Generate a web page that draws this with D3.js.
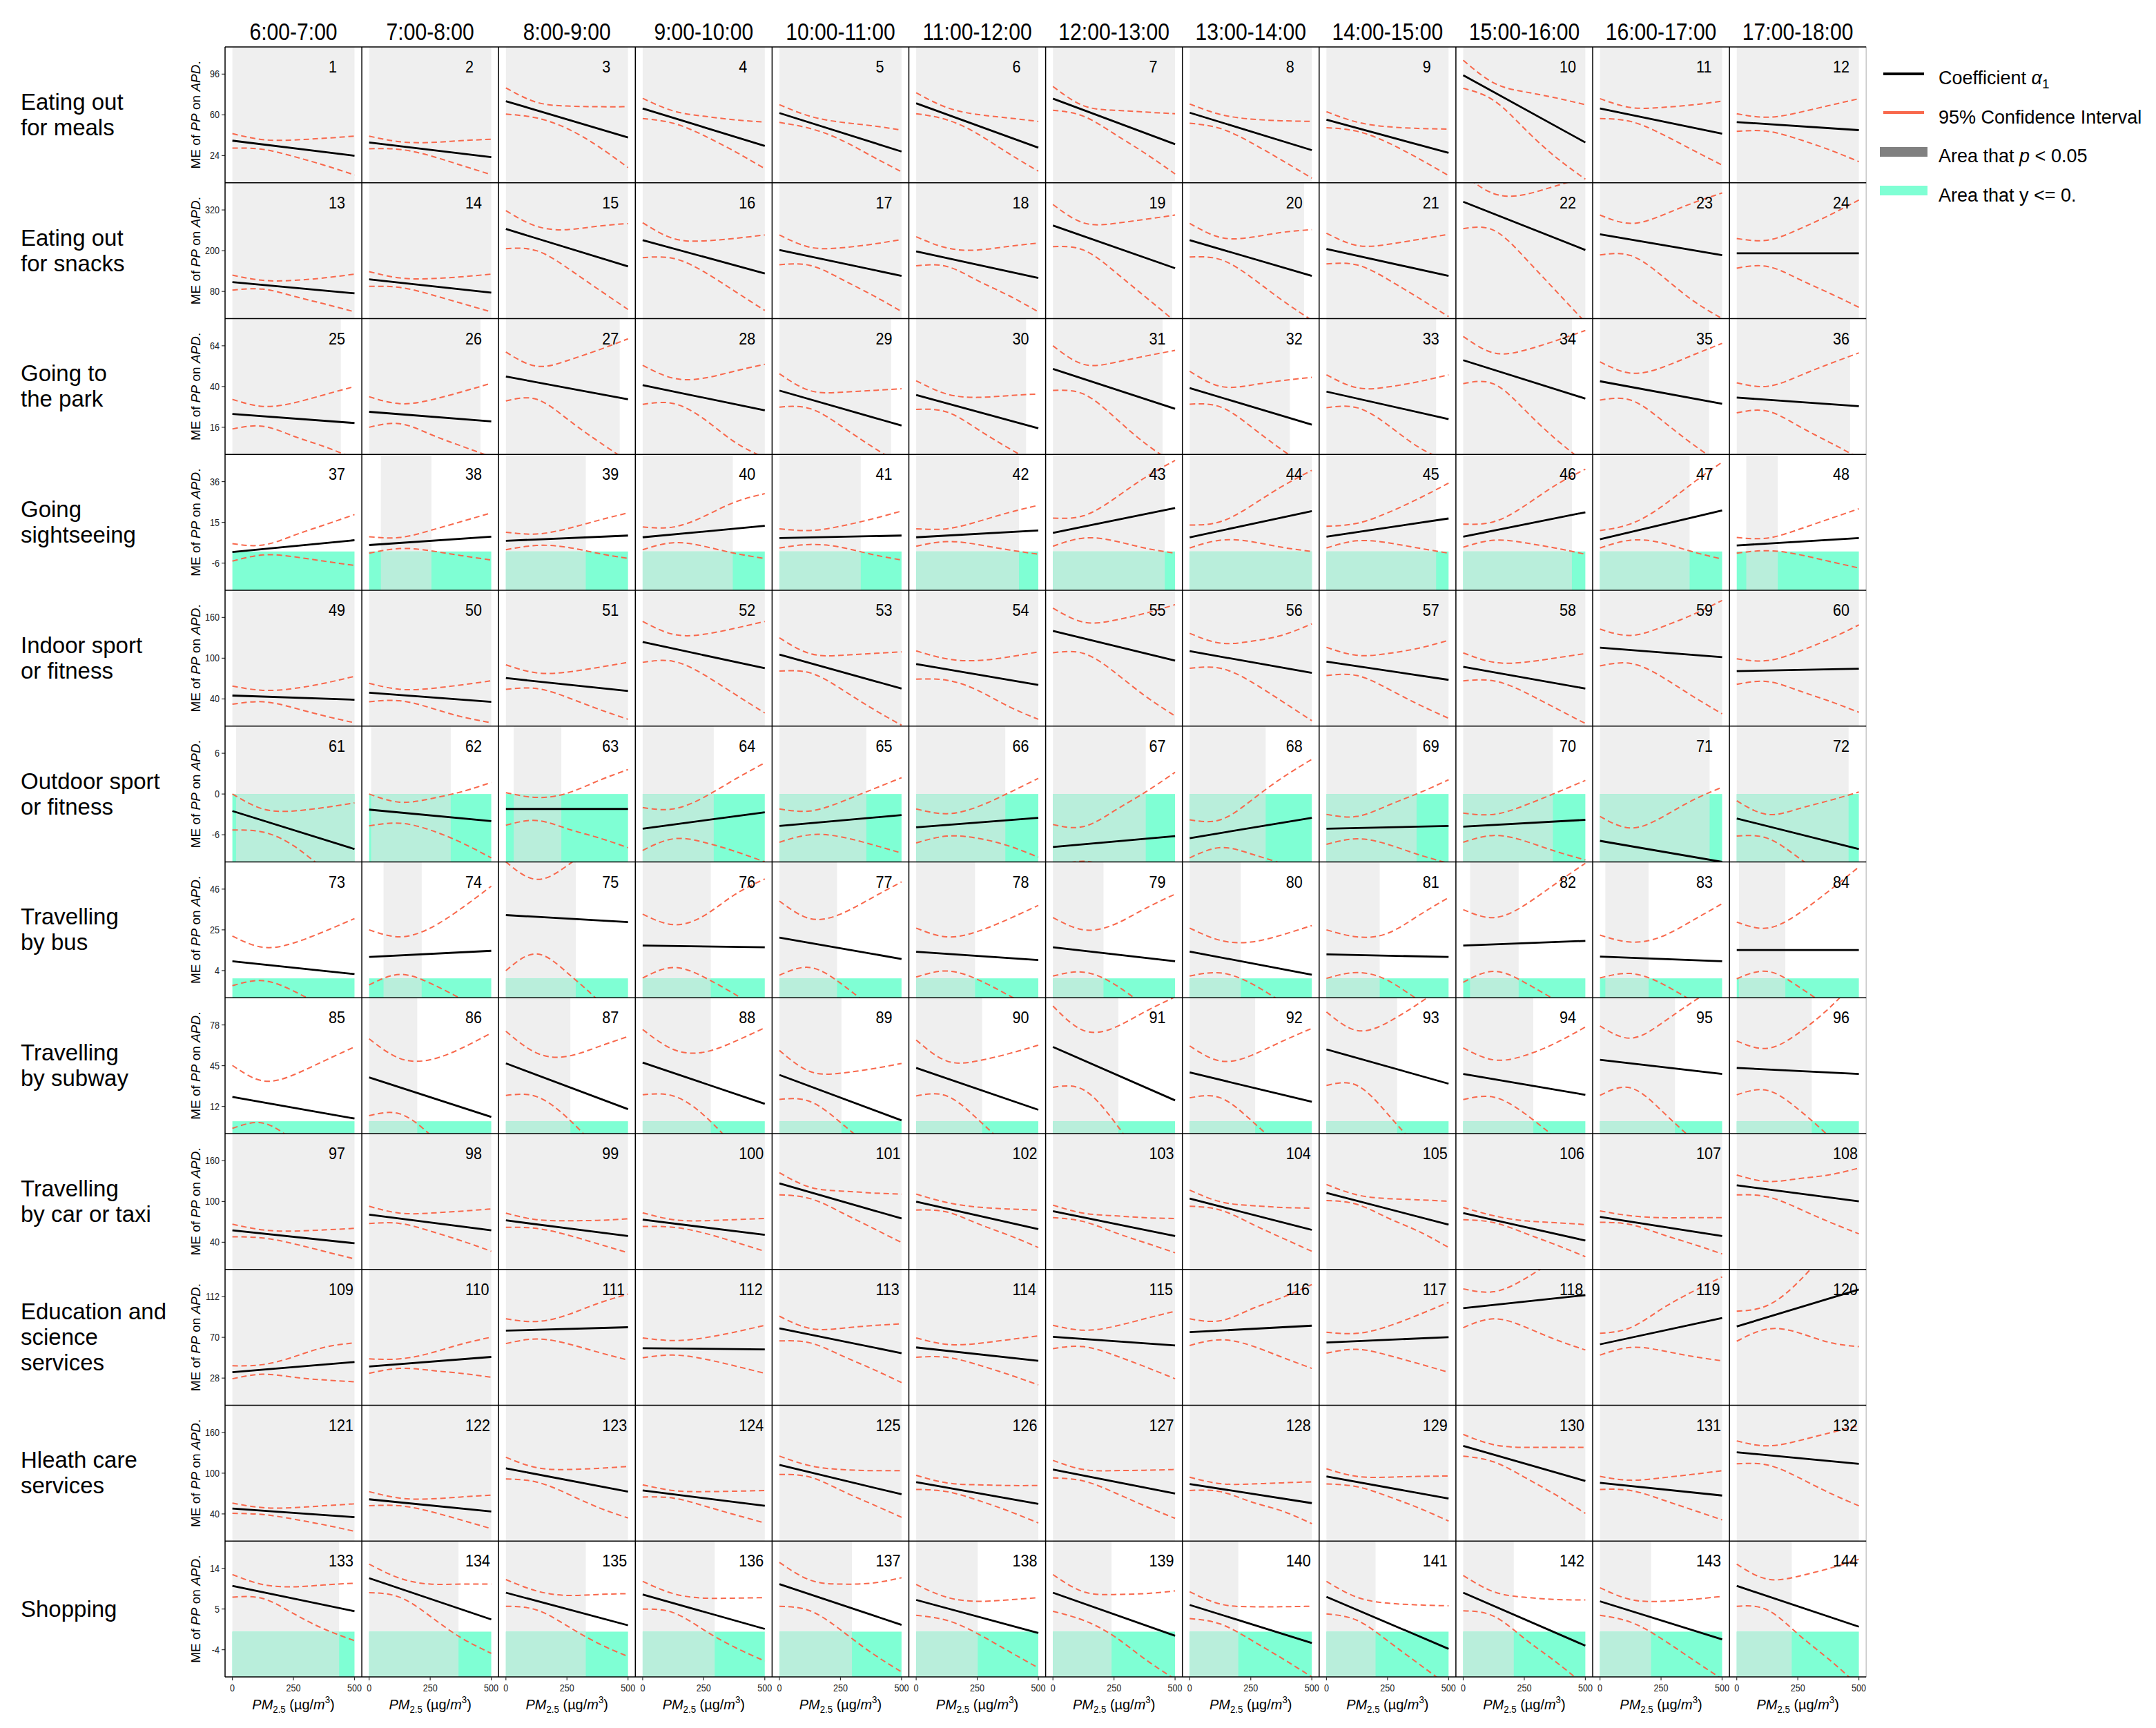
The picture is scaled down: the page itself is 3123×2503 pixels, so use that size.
<!DOCTYPE html>
<html>
<head>
<meta charset="utf-8">
<script src="https://cdn.jsdelivr.net/npm/d3@7"></script>
<style>
body { margin: 0; background: #fff; }
text { font-family: "Liberation Sans", Arial, sans-serif; }
</style>
</head>
<body>
<script>
// hour slots (columns) and activities (rows)
var hours = ["6:00-7:00", "7:00-8:00", "8:00-9:00", "9:00-10:00", "10:00-11:00", "11:00-12:00",
    "12:00-13:00", "13:00-14:00", "14:00-15:00", "15:00-16:00", "16:00-17:00", "17:00-18:00"];

var activities = [["Eating out", "for meals"], ["Eating out", "for snacks"], ["Going to", "the park"],
    ["Going", "sightseeing"], ["Indoor sport", "or fitness"], ["Outdoor sport", "or fitness"],
    ["Travelling", "by bus"], ["Travelling", "by subway"], ["Travelling", "by car or taxi"],
    ["Education and", "science", "services"], ["Hleath care", "services"], ["Shopping"]];

// y limits and ticks of every row
var yDomains = [[0, 120], [0, 400], [0, 80], [-20, 50], [0, 200], [-10, 10], [-10, 60], [-10, 100],
    [0, 200], [0, 140], [0, 200], [-10, 20]];
var yTicks = [[24, 60, 96], [80, 200, 320], [16, 40, 64], [-6, 15, 36], [40, 100, 160], [-6, 0, 6],
    [4, 25, 46], [12, 45, 78], [40, 100, 160], [28, 70, 112], [40, 100, 160], [-4, 5, 14]];
var xTicks = [0, 250, 500];

// PM2.5 values where the confidence bounds were read
var ciX = [0, 125, 250, 375, 500];

// coefficient alpha1 at PM2.5 = 0 and PM2.5 = 500
var coef = [
    [[37.2, 23.9], [35.6, 22.7], [72.1, 40], [65.6, 32.6], [61.6, 27.6], [70.2, 31], [74.3, 34.1], [61.9, 28.8], [55.7, 26.4], [95, 35.6], [65.6, 43.4], [53.6, 46.5]],
    [[107.4, 74.5], [115.6, 76.5], [263.9, 153.8], [230.9, 133.1], [202, 125.8], [198, 119.8], [274.2, 148.5], [230.9, 125.8], [205, 125.8], [344.2, 202], [248.4, 186.7], [192.4, 192.4]],
    [[23.8, 18.5], [25.1, 19.5], [45.9, 32.5], [40.8, 26], [37.6, 17], [35, 15.4], [50.4, 26.9], [39.1, 17.5], [37, 20.8], [55.5, 32.9], [43.1, 29.8], [33.5, 28.4]],
    [[-0.3, 5.8], [3.3, 7.6], [5.5, 8.2], [7.3, 13.2], [6.9, 8.2], [7.3, 10.8], [9.6, 22.4], [7.3, 20.8], [7.6, 17], [7.6, 20.2], [6.3, 21.1], [3.1, 6.9]],
    [[45, 38.8], [49.1, 35.8], [70.7, 51.7], [123.8, 85.2], [105.3, 55.3], [91.3, 60.5], [140.2, 96.5], [110.3, 78.4], [94.9, 68.1], [87.2, 55.3], [115.4, 101.6], [81, 84.6]],
    [[-2.5, -8.1], [-2.3, -4], [-2.2, -2.2], [-5.1, -2.7], [-4.7, -3.1], [-4.9, -3.5], [-7.8, -6.2], [-6.5, -3.5], [-5.1, -4.7], [-4.8, -3.8], [-6.9, -10], [-3.6, -8.1]],
    [[8.8, 2.2], [11, 14.2], [32.6, 29], [16.9, 16], [21, 10], [13.7, 9.4], [16, 8.8], [13.8, 1.9], [12.4, 11], [16.9, 19.3], [11.2, 8.8], [14.6, 14.6]],
    [[19.7, 2.2], [35.5, 3.5], [46.9, 9.8], [47.5, 14.1], [37.5, 0.7], [43.2, 9.3], [60.2, 16.9], [39.5, 15.8], [58.2, 30.4], [38.3, 21.4], [49.7, 38.3], [43.2, 38.3]],
    [[57.6, 38.5], [80.6, 57.6], [72.2, 49.1], [73.3, 50.9], [126.7, 75], [99.7, 59.3], [85.7, 49.1], [104.3, 58.2], [112.7, 66], [82.9, 42.5], [77.3, 49.1], [123.9, 100.3]],
    [[34, 44.6], [40, 49.8], [76.9, 80.4], [58.8, 57.6], [79.2, 53.7], [59.6, 45.8], [70.6, 61.6], [75.3, 82], [64.7, 70.2], [100.1, 113.5], [62.8, 89.9], [81.2, 119.3]],
    [[48, 35.2], [61.5, 43.6], [107.1, 72.8], [74.5, 52], [112.1, 68.9], [86.7, 54.7], [105.4, 70], [84, 55.9], [95.2, 62.6], [140.2, 88.5], [85.7, 67.1], [130.7, 113.8]],
    [[10.1, 4.5], [11.8, 2.7], [8.6, 1.4], [8.2, 0.6], [10.5, 1.5], [7, -0.3], [8.6, -0.9], [5.9, -2.5], [7.7, -3.8], [8.6, -3.1], [6.7, -1.7], [10.1, 1.1]]
];

// upper 95% bound at ciX
var ciUpper = [
    [[43.4, 38.1, 37.8, 39.3, 41.2], [41.2, 36.3, 35.6, 37.2, 38.4], [83.8, 71.2, 67.8, 67.2, 67.2], [74.6, 63.5, 58.8, 55.7, 53.6], [69, 58.8, 53.6, 50.5, 46.5], [79.5, 66.5, 60.4, 57.3, 54.2],
     [85.1, 68.1, 64.1, 62.5, 61], [69.6, 60.4, 56.3, 54.8, 54.2], [62.8, 53.6, 49.6, 48, 47.4], [108.3, 88.2, 80.4, 75.2, 69], [74.3, 66.5, 66.5, 68.7, 72.1], [61, 57.9, 61.9, 68.1, 74.3]],
    [[128, 112.6, 112.6, 119.8, 131.1], [138.3, 119.8, 117.7, 122.9, 131.1], [318, 272, 262, 272, 280], [282.4, 236, 228.8, 236, 246.3], [246.3, 210.3, 208.2, 218.5, 232.9], [241.2, 208.2, 202, 212.3, 222.6],
     [336, 282, 280, 292, 305], [280.4, 239.2, 239.2, 253.6, 262], [251.5, 215.4, 218.5, 232.9, 248.4], [425, 368, 365, 390, 415], [305, 280.4, 303, 339, 369.9], [236, 230.9, 261.8, 303, 349.2]],
    [[32.4, 28.3, 30.3, 35.1, 40], [34, 29.9, 32, 36.7, 41.9], [60.3, 52, 55.2, 61.3, 68.1], [52.5, 44.9, 44.9, 49, 53.1], [47.5, 37.6, 36.6, 37.6, 38.7], [43.4, 35.6, 33.6, 34.6, 35.6],
     [64, 53.1, 54.1, 57.8, 61.3], [49, 40.1, 40.8, 43.4, 45.4], [46.9, 39.3, 39.7, 42.8, 46.9], [69.5, 59.8, 61.3, 66.8, 73], [54.5, 47.9, 51, 58.2, 65.4], [42.2, 40.1, 45.9, 53.1, 59.8]],
    [[4, 3.3, 8.2, 13.6, 19], [7.6, 7.2, 10.8, 15.3, 19.9], [9.9, 9, 11.7, 15.9, 19.9], [12.6, 12.6, 18, 25.3, 29.8], [11.7, 10.8, 13, 16.6, 20.8], [11.7, 11.7, 15.3, 19.9, 23.8],
     [17.2, 18.4, 27.1, 37.9, 46.9], [13.6, 15.3, 23.4, 33.3, 41.8], [13, 14.5, 19.9, 27.1, 35.2], [14.1, 15.3, 23.4, 33.9, 42.4], [10.8, 14.2, 22.9, 34.8, 46], [7.2, 6.9, 11.2, 16.6, 22]],
    [[58.9, 52.7, 55.3, 63, 73.3], [63, 54.2, 55.3, 60.5, 66.7], [90.2, 78.4, 79.5, 86.2, 93.9], [154.1, 135.1, 135.1, 143.8, 154.1], [130, 106.8, 104.2, 106.8, 109.3], [110.8, 99, 96.5, 101.6, 109.3],
     [173.7, 153.1, 155.7, 165.9, 178.8], [136.6, 122.2, 124.8, 133.5, 150.5], [116, 104.2, 106.8, 114.5, 126.3], [107.8, 94, 94, 100.1, 106.8], [142.8, 133.5, 145.4, 163.4, 185], [99, 96.5, 109.3, 127.4, 149]],
    [[0, -2.2, -2.5, -2, -1.3], [0, -1.2, -0.7, 0.3, 1.7], [0.2, -0.5, 0.1, 1.9, 3.6], [-2, -2.2, -0.5, 2.1, 4.6], [-2.2, -2.5, -1.2, 0.6, 2.4], [-2.2, -2.9, -1.9, 0.1, 2.3],
     [-4.5, -4.8, -2.5, 0.2, 3.2], [-3.8, -3.8, -1, 2.3, 5.1], [-3, -3.3, -1.7, 0.1, 2.1], [-2.8, -3, -1.7, 0.1, 2], [-3.3, -5, -3.5, -1, 1], [-1, -3, -2.2, -1, 0.3]],
    [[21.8, 16, 18.2, 24.1, 30.8], [25, 21.4, 25.9, 35.8, 47.5], [60, 51, 58, 70, 85], [33.1, 27.7, 32.2, 43, 51.2], [39.8, 30.8, 33.1, 41.2, 49.7], [25.9, 21.4, 24.1, 30.4, 37.6],
     [31.3, 25, 27.7, 35.8, 43.4], [25.9, 19.6, 18.7, 22.3, 27.2], [25, 21.4, 23.2, 32.2, 41.6], [35.4, 31.3, 37.6, 48.5, 59.3], [22.3, 18.7, 21.4, 29.5, 38.5], [29, 25.9, 33.1, 44.8, 57.4]],
    [[45.2, 32.7, 37.5, 48.8, 60.2], [66.7, 50.9, 49.8, 58.8, 71.5], [72.9, 55.3, 52.5, 60.1, 68.6], [74.3, 58.2, 55.9, 64.4, 75.7], [57.3, 40.3, 38.9, 42.3, 46.8], [65.8, 48.8, 48.8, 54.5, 61.6],
     [93.3, 73.5, 75.7, 88.5, 100.6], [61, 48.8, 53.1, 64.4, 75.2], [88.5, 73.5, 80, 95, 112], [59.4, 49.7, 53.1, 63, 76.3], [77.2, 67.3, 79, 96, 112], [65, 59, 71, 91, 116]],
    [[66.6, 58.2, 56.5, 58.2, 60.4], [93, 82.9, 82.9, 85.7, 89], [82.9, 73.3, 71.7, 72.2, 74.5], [83.4, 73.3, 71.7, 73.3, 75], [142.4, 121.1, 115.5, 112.7, 110.9], [110.9, 98.6, 91.9, 89, 87.4],
     [94.7, 82.9, 79, 76.2, 75], [116.7, 99.7, 94.1, 91.3, 90.2], [125, 109.8, 104.3, 102.5, 100.3], [91.3, 79, 71.7, 68.9, 66], [86.2, 79, 76.2, 76.2, 76.2], [139, 129.5, 133.5, 139, 149.2]],
    [[40.7, 41.9, 49.8, 59.6, 64.3], [47.8, 47.8, 53.7, 62.8, 70.2], [89.1, 86.3, 93, 104.8, 114.6], [69.4, 66.7, 69.4, 75.3, 82.4], [91.8, 79.2, 79.2, 82, 83.9], [69.4, 62.8, 63.6, 67.5, 71.4],
     [82.4, 77.3, 81.2, 89.1, 96.9], [89.1, 87.1, 98.9, 110.7, 124.4], [75.3, 74.1, 81.2, 93, 106], [120, 117, 130, 150, 170], [74.1, 80, 98.9, 116.6, 132.3], [96.9, 102.8, 126.5, 158, 178]],
    [[55.9, 49.2, 49.2, 52, 54.8], [72.8, 63.3, 62.1, 64.9, 67.7], [123.4, 108.2, 105.4, 107.1, 109.9], [82.9, 74.5, 72.8, 73.4, 74.5], [125.1, 111, 105.4, 103.7, 103.7], [96.9, 85.7, 82.9, 81.8, 81.8],
     [118.8, 105.4, 103.7, 104.3, 105.4], [94.1, 84.6, 84, 85.7, 87.3], [106.5, 95.2, 94.1, 95.2, 95.8], [157, 141.9, 138, 138, 138], [95.2, 89.6, 93, 98, 103.7], [147.5, 140.2, 147.5, 158.8, 170]],
    [[12.6, 10.4, 9.9, 10.3, 10.7], [14.9, 11.8, 10.5, 10.5, 10.5], [11.5, 9, 8, 8.2, 8.4], [11.1, 8.4, 7.4, 7.4, 7.5], [15.3, 11.4, 10.5, 10.7, 11.9], [10.4, 7.6, 6.7, 7, 7.5],
     [12.6, 8.8, 8.2, 8.4, 9], [8.8, 6.1, 5.5, 5.5, 5.6], [11.1, 7.6, 6.3, 5.9, 5.7], [12.4, 8.8, 7.6, 7.1, 7], [9.7, 7.1, 6.7, 7.1, 7.8], [14.9, 11.6, 12.2, 13.9, 16]]
];

// lower 95% bound at ciX
var ciLower = [
    [[30.7, 29.5, 23.3, 15.6, 6.9], [30.1, 29.5, 23.9, 15.6, 7.2], [60.7, 57.3, 48, 32.6, 13.4], [56.7, 52.6, 41.8, 27.9, 12.5], [53.3, 48, 38.1, 23.9, 9.7], [61, 55.7, 43.4, 26.4, 10.3],
     [64.1, 58.8, 43.4, 26.4, 7.8], [52.6, 48, 35.6, 20.2, 4.1], [48.6, 45.5, 35.6, 21.7, 6.3], [83.5, 72.7, 48, 23.3, 3.2], [56.7, 54.2, 43.4, 29.5, 15.6], [45.5, 45.5, 38.7, 29.5, 18.7]],
    [[83.7, 86.8, 66.2, 43.6, 19.9], [95, 91.9, 71.4, 45.6, 19.9], [206, 200, 150, 88, 27], [179.5, 177.4, 138.3, 81.7, 24], [158.8, 156.7, 117.7, 71.4, 21], [155.6, 153.6, 112.6, 69.3, 19.9],
     [212, 202, 140, 66, -8], [181.3, 174.1, 122.6, 55.9, -5], [160.9, 158, 116, 62, 6], [265, 260, 181, 85, -11], [187.7, 185.7, 128, 55.9, 0], [148.5, 153.6, 117.7, 76.5, 33.3]],
    [[15, 16.6, 10.8, 4.7, -2.5], [16, 18.1, 11.9, 5.1, -1.5], [31.5, 32.5, 21, 8, -4], [29.5, 30, 21, 7.5, -2], [27.9, 27, 17, 5, -6], [26.5, 25, 15, 4, -6],
     [37.7, 35.6, 22.2, 6.8, -5.6], [29.6, 28, 16.5, 3, -9], [27.5, 27.5, 17.5, 4.5, -4], [41.7, 41.5, 26.5, 9.5, -5], [32, 32, 20.5, 6.5, -6], [24.5, 25.5, 17, 7.5, -2]],
    [[-5, -1.8, -2.7, -5, -7.2], [-0.9, 1.5, 0.4, -2.1, -4.4], [0.9, 3.1, 2.2, -0.9, -3.6], [0.9, 4.5, 2.7, -0.9, -3.6], [1.8, 3.6, 2.2, -1.4, -4.4], [2.7, 5.1, 3.6, 0.9, -1.4],
     [2.7, 6.9, 5.5, 1.8, -0.9], [1.8, 5.8, 5.1, 2.2, 0], [1.8, 5.5, 4.5, 1.8, -0.9], [2.2, 5.8, 4.5, 1.8, -1.4], [1.8, 5.8, 4.5, 0, -3.9], [-0.9, 0.4, -1.5, -5, -8.5]],
    [[32.2, 35.8, 27, 15.2, 4.9], [35.8, 37.3, 27, 14.1, 4.9], [54.2, 55.3, 42.5, 25.5, 10], [93.9, 95.4, 75.9, 47.6, 19.3], [81, 78.4, 55.3, 27, 1.3], [69.2, 67.6, 53, 29.6, 10],
     [108, 107, 80, 45, 15], [85.2, 85.2, 65.6, 37.3, 8], [74.4, 74.4, 55.3, 32.2, 11.5], [66.6, 66.6, 50.2, 27, 3.9], [88.7, 92.3, 73.3, 45, 18.2], [61.5, 65.6, 52.7, 37.3, 20.3]],
    [[-5.3, -5.6, -7.6, -11, -14], [-4.7, -4.3, -5.3, -7.1, -9.4], [-4.6, -3.9, -5.1, -6.4, -7.9], [-8.3, -6.6, -7.1, -8.4, -10], [-7.1, -6, -6.3, -7.4, -8.7], [-7.2, -6.2, -6.5, -7.6, -9.3],
     [-10.8, -9.9, -11, -12.5, -14], [-9.4, -7.9, -8.8, -10.2, -11.8], [-7.4, -6.6, -7.4, -8.9, -10.2], [-7.1, -6.1, -6.9, -8.4, -9.7], [-10.4, -10.4, -13.4, -17.4, -21], [-6.2, -6.5, -9.3, -12.5, -16]],
    [[-3.8, -1.2, -6.5, -15, -25], [-3.4, 2, -2.5, -10.5, -20], [4, 12.6, 3, -11, -28], [0.2, 5.6, 0.7, -8, -18], [1.6, 5.6, -2.5, -15, -29], [0.7, 3.8, -0.5, -8.5, -17],
     [1.2, 3.2, -2.9, -14, -25], [1.2, 2.8, -2.5, -12, -22], [0, 3, -1, -11, -20], [-2, 3.6, -2, -11, -20], [0.2, 2.5, -2.5, -11.5, -21], [-0.2, 3.6, -4, -15, -28]],
    [[-5.8, -1.5, -15.6, -35.6, -55.8], [4.5, 6, -11, -36, -64], [20.9, 20, 3, -22, -49], [21.4, 20.5, 5, -20, -45], [17.7, 16, -1, -22, -45], [20.5, 20.5, 2, -21, -45],
     [27.5, 25.5, 0, -34, -68], [18.9, 19, 1, -21, -43], [29, 29, 6, -22, -51], [17.5, 19.5, 6.5, -13, -34], [21, 27, 9, -14, -36], [21.4, 25, 10, -12, -40]],
    [[48, 46.3, 37.9, 26.7, 15.5], [67.7, 67.7, 56.5, 42.5, 26.7], [62.1, 60.4, 50.9, 37.9, 24.5], [63.2, 62.1, 53.7, 40.7, 26.7], [109.8, 104.3, 84.6, 62.1, 39.6], [87.4, 84.6, 67.7, 50.9, 32.3],
     [76.2, 70.5, 54.8, 39.6, 24.5], [93, 87.4, 67.7, 46.9, 26.7], [101.4, 95.8, 76, 56.5, 32.3], [73.3, 68.9, 53.7, 36.8, 18.8], [69.4, 66, 52, 37.9, 22.8], [109.8, 107, 90.2, 70.5, 52.5]],
    [[27.3, 32, 28.9, 26.1, 24.2], [32.9, 38, 36, 32.9, 28.9], [63.6, 68.3, 63.6, 54.9, 46.6], [49, 51.7, 47.8, 40.7, 32.9], [66.3, 64.3, 51.7, 38, 23.4], [49.4, 49.4, 41.9, 32, 21],
     [58.4, 60.4, 51.7, 39.9, 27.3], [61.6, 67.5, 61.6, 49.8, 38], [53.7, 57.6, 51.7, 43, 34], [80, 89.1, 81, 68, 57], [51.7, 59.6, 56.5, 50.5, 45.8], [66, 78.5, 75, 65, 60.4]],
    [[40.8, 39.1, 32.4, 24, 14.4], [52, 52, 43.6, 31.2, 18.3], [91.4, 87, 70, 50, 34], [64.9, 63.3, 52, 39.1, 26.7], [98.1, 94.2, 75, 55, 35], [76.1, 72.8, 60.4, 44.7, 26.7],
     [92.9, 88.5, 71.7, 52, 33.5], [74.5, 72.8, 58, 44.7, 25.6], [84, 80.1, 66.1, 49.2, 29.5], [125.1, 116.6, 94.2, 68.9, 40.8], [76.1, 74.5, 61.5, 46.4, 31.2], [113.8, 112.1, 94.2, 71.7, 52]],
    [[7.6, 7.3, 4, 0.6, -2], [8.6, 7.6, 3.4, -1.3, -4.8], [5.6, 4.8, 1.3, -2.5, -5.5], [5, 4.2, 0.4, -3.4, -6.5], [5.6, 4.6, 0.4, -4.6, -8.9], [3.6, 2.5, -0.4, -4.2, -8],
     [4.5, 2.5, -1, -6, -10.5], [2.9, 1.7, -1.8, -5.8, -10], [3.9, 2.5, -2, -7, -12], [4.6, 3.4, -1.5, -6.5, -12], [3.6, 2.1, -1.5, -6, -10.5], [5.6, 4.8, -0.5, -6, -12]]
];

// PM2.5 interval where p < 0.05 (null: nowhere)
var full = [0, 500];
var sigArea = [
    [full, full, full, full, full, full, full, full, full, full, full, full],
    [full, full, full, full, full, full, [0, 488], [0, 468], full, full, full, full],
    [[0, 444], [0, 456], [0, 466], full, [0, 457], [0, 450], [0, 449], [0, 410], [0, 449], [0, 445], [0, 447], [0, 464]],
    [null, [48, 255], [0, 327], [0, 369], [0, 333], [0, 421], [0, 458], full, [0, 449], [0, 445], [0, 367], [39, 168]],
    [full, full, full, full, full, full, full, full, full, full, full, full],
    [[15, 500], [8, 334], [32, 227], [0, 291], [0, 356], [0, 365], [0, 380], [0, 311], [0, 369], [0, 367], [0, 449], [0, 458]],
    [null, [59, 215], [0, 286], [0, 279], [0, 236], [0, 241], [0, 207], [0, 209], [0, 218], [28, 227], [22, 199], [9, 199]],
    [null, [0, 197], [0, 264], [0, 279], [0, 254], [0, 270], [0, 268], [0, 268], [0, 289], [0, 287], [0, 307], [0, 307]],
    [full, full, full, full, full, full, full, full, full, full, full, full],
    [full, full, full, full, full, full, full, full, full, full, full, full],
    [full, full, full, full, full, full, full, full, full, full, full, full],
    [[0, 437], [0, 366], [0, 327], [0, 295], [0, 297], [0, 252], [0, 240], [0, 199], [0, 201], [0, 207], [0, 209], [0, 225]]
];

var width = 3123;
var height = 2503;

var gridLeft = 326, gridTop = 68, pw = 198.1, ph = 196.75;
var nRows = activities.length, nCols = hours.length;

var svg = d3.select('body')
    .append('svg')
    .attr('width', width)
    .attr('height', height);

svg.append('defs').append('clipPath')
    .attr('id', 'panel-clip')
    .append('rect')
    .attr('width', pw)
    .attr('height', ph);

var x = d3.scaleLinear().domain([-30, 530]).range([0, pw]);

// text placed in its own frame, optionally squeezed sideways
function placeText(parent, px, py, size, anchor, squeeze) {
    return parent.append('g')
        .attr('transform', 'translate(' + px + ',' + py + ') scale(' + (squeeze || 1) + ',1)')
        .append('text')
        .attr('text-anchor', anchor || 'start')
        .style('font-size', size + 'px');
}

// column headers
hours.forEach(function(h, i) {
    placeText(svg, gridLeft + i * pw + pw / 2, 58, 35, 'middle', 0.86).text(h);
});

activities.forEach(function(lines, r) {
    var y = d3.scaleLinear().domain(yDomains[r]).range([ph, 0]);
    var line = d3.line()
        .x(function(d) { return x(d[0]); })
        .y(function(d) { return y(d[1]); })
        .curve(d3.curveNatural);
    var rowTop = gridTop + r * ph;
    var mid = rowTop + ph / 2;

    // row label
    var lab = placeText(svg, 30, mid, 33);
    lines.forEach(function(t, k) {
        lab.append('tspan')
            .attr('x', 0)
            .attr('y', 11 + (k - (lines.length - 1) / 2) * 37)
            .text(t);
    });

    for (var c = 0; c < nCols; c++) {
        var g = svg.append('g')
            .attr('transform', 'translate(' + (gridLeft + c * pw) + ',' + rowTop + ')');
        var sig = sigArea[r][c];

        if (sig) {
            g.append('rect')
                .attr('x', x(sig[0]))
                .attr('width', x(sig[1]) - x(sig[0]))
                .attr('y', 0)
                .attr('height', ph)
                .attr('fill', '#efefef');
        }
        if (yDomains[r][0] < 0) {
            g.append('rect')
                .attr('x', x(0))
                .attr('width', x(500) - x(0))
                .attr('y', y(0))
                .attr('height', ph - y(0))
                .attr('fill', '#7fffd4');
            if (sig) {
                g.append('rect')
                    .attr('x', x(sig[0]))
                    .attr('width', x(sig[1]) - x(sig[0]))
                    .attr('y', y(0))
                    .attr('height', ph - y(0))
                    .attr('fill', '#b9eedb');
            }
        }

        var plot = g.append('g').attr('clip-path', 'url(#panel-clip)');
        [ciUpper[r][c], ciLower[r][c]].forEach(function(vals) {
            plot.append('path')
                .datum(ciX.map(function(v, i) { return [v, vals[i]]; }))
                .attr('d', line)
                .attr('fill', 'none')
                .attr('stroke', '#f8684c')
                .attr('stroke-width', 2)
                .attr('stroke-dasharray', '8,5');
        });
        plot.append('path')
            .datum([[0, coef[r][c][0]], [500, coef[r][c][1]]])
            .attr('d', d3.line().x(function(d) { return x(d[0]); }).y(function(d) { return y(d[1]); }))
            .attr('fill', 'none')
            .attr('stroke', '#000')
            .attr('stroke-width', 2.8);

        placeText(g, 150, 37, 24, 'start', 0.9).text(r * nCols + c + 1);
    }

    // y axis on first column
    var ya = svg.append('g').attr('transform', 'translate(' + gridLeft + ',' + rowTop + ')');
    yTicks[r].forEach(function(t) {
        ya.append('line')
            .attr('x1', -5).attr('x2', 0)
            .attr('y1', y(t)).attr('y2', y(t))
            .attr('stroke', '#333').attr('stroke-width', 1.2);
        placeText(ya, -8, y(t) + 5, 14, 'end', 0.9).attr('fill', '#222').text(t);
    });
    var yt = svg.append('text')
        .attr('transform', 'translate(290,' + mid + ') rotate(-90)')
        .attr('text-anchor', 'middle')
        .style('font-size', '19px');
    yt.append('tspan').text('ME of ');
    yt.append('tspan').style('font-style', 'italic').text('PP');
    yt.append('tspan').text(' on ');
    yt.append('tspan').style('font-style', 'italic').text('APD');
    yt.append('tspan').text('.');
});

// panel borders
var gridBottom = gridTop + nRows * ph;
for (var i = 0; i <= nCols; i++) {
    svg.append('line')
        .attr('x1', gridLeft + i * pw).attr('x2', gridLeft + i * pw)
        .attr('y1', gridTop).attr('y2', gridBottom)
        .attr('stroke', i === nCols ? '#c8c8c8' : '#000')
        .attr('stroke-width', 1.5);
}
for (var j = 0; j <= nRows; j++) {
    svg.append('line')
        .attr('x1', gridLeft).attr('x2', gridLeft + nCols * pw)
        .attr('y1', gridTop + j * ph).attr('y2', gridTop + j * ph)
        .attr('stroke', '#000')
        .attr('stroke-width', 1.5);
}

// x axes under the last row
hours.forEach(function(h, c) {
    var xa = svg.append('g').attr('transform', 'translate(' + (gridLeft + c * pw) + ',' + gridBottom + ')');
    xTicks.forEach(function(t) {
        xa.append('line')
            .attr('x1', x(t)).attr('x2', x(t))
            .attr('y1', 0).attr('y2', 5)
            .attr('stroke', '#333').attr('stroke-width', 1.2);
        placeText(xa, x(t), 21, 14, 'middle', 0.9).attr('fill', '#222').text(t);
    });
    var xt = placeText(xa, pw / 2, 47, 21, 'middle', 0.95);
    xt.append('tspan').style('font-style', 'italic').text('PM');
    xt.append('tspan').attr('dy', 5).style('font-size', '14px').text('2.5');
    xt.append('tspan').attr('dy', -5).text(' (\u00b5g/');
    xt.append('tspan').style('font-style', 'italic').text('m');
    xt.append('tspan').attr('dy', -9).style('font-size', '14px').text('3');
    xt.append('tspan').attr('dy', 9).text(')');
});

// legend
var lg = svg.append('g');
lg.append('line').attr('x1', 2728).attr('x2', 2787).attr('y1', 107).attr('y2', 107)
    .attr('stroke', '#000').attr('stroke-width', 4);
lg.append('line').attr('x1', 2728).attr('x2', 2787).attr('y1', 163).attr('y2', 163)
    .attr('stroke', '#f8684c').attr('stroke-width', 4);
lg.append('rect').attr('x', 2723).attr('y', 213).attr('width', 69).attr('height', 14).attr('fill', '#808080');
lg.append('rect').attr('x', 2723).attr('y', 269).attr('width', 69).attr('height', 14).attr('fill', '#7fffd4');

var t1 = lg.append('text').attr('x', 2808).attr('y', 122).style('font-size', '27px');
t1.append('tspan').text('Coefficient ');
t1.append('tspan').style('font-style', 'italic').text('\u03b1');
t1.append('tspan').attr('dy', 6).style('font-size', '19px').text('1');
lg.append('text').attr('x', 2808).attr('y', 179).style('font-size', '27px').text('95% Confidence Interval');
var t3 = lg.append('text').attr('x', 2808).attr('y', 235).style('font-size', '27px');
t3.append('tspan').text('Area that ');
t3.append('tspan').style('font-style', 'italic').text('p');
t3.append('tspan').text(' < 0.05');
lg.append('text').attr('x', 2808).attr('y', 292).style('font-size', '27px').text('Area that y <= 0.');
</script>
</body>
</html>
